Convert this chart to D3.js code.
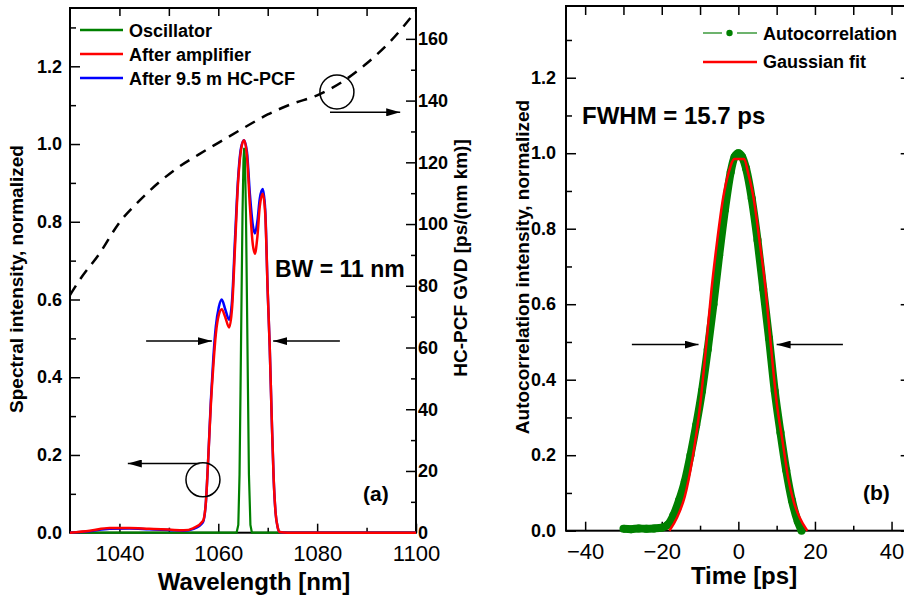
<!DOCTYPE html>
<html>
<head>
<meta charset="utf-8">
<script src="https://cdn.jsdelivr.net/npm/d3@7"></script>
<style>
body{margin:0;background:#fff}
svg text{font-family:"Liberation Sans",Arial,Helvetica,sans-serif;fill:#000}
</style>
</head>
<body>
<div id="chart"></div>
<script>
// ---- panel (a): spectra ----
var specWl  = [1030,1034,1038,1042,1046,1050,1053,1055,1056.9,1057.5,1058,1058.5,1059,1059.5,1060.1,1060.7,1061.4,1062.2,1062.8,1063.4,1064,1064.6,1065.2,1065.8,1066.4,1067,1067.4,1067.9,1068.4,1069,1069.5,1070,1070.4,1070.8,1071.2,1071.6,1072,1072.4,1074,1080,1090,1100]
var ampVals = [0,0.005,0.012,0.012,0.010,0.008,0.006,0.012,0.03,0.08,0.2,0.33,0.43,0.51,0.56,0.575,0.555,0.528,0.58,0.74,0.9,0.985,1.01,0.97,0.84,0.74,0.718,0.76,0.84,0.872,0.82,0.62,0.48,0.3,0.14,0.05,0.015,0.002,0,0,0,0]
var hcfVals = [0,0.004,0.010,0.011,0.009,0.007,0.005,0.01,0.027,0.08,0.2,0.34,0.45,0.53,0.58,0.6,0.575,0.548,0.6,0.76,0.91,0.99,1.01,0.98,0.87,0.79,0.77,0.8,0.86,0.884,0.83,0.62,0.48,0.3,0.14,0.05,0.015,0.002,0,0,0,0]
var oscWl   = [1030,1063.7,1064.05,1064.3,1064.5,1064.7,1064.9,1065.1,1065.25,1065.4,1065.6,1065.8,1066.0,1066.2,1066.5,1066.8,1100]
var oscVals = [0,0,0.02,0.15,0.37,0.6,0.82,0.96,0.99,0.96,0.82,0.6,0.37,0.15,0.02,0,0]
var gvdWl   = [1030,1032,1036,1040,1044,1048,1052,1056,1060,1065,1070,1075,1080,1085,1090,1095,1100]
var gvdVals = [77,82,90.5,100.5,107.5,113.5,118.5,122.5,126.3,131,135.5,139,141.7,146,152,159.5,169]

var waveTicks = [1040,1060,1080,1100], waveMinor = [1050,1070,1090]
var waveTop = [1040,1050,1060,1070,1080,1090]
var intTicks = [0,0.2,0.4,0.6,0.8,1.0,1.2], intMinor = [0.1,0.3,0.5,0.7,0.9,1.1,1.3]
var gvdTicks = [0,20,40,60,80,100,120,140,160], gvdMinor = [10,30,50,70,90,110,130,150]
var specNames = ["Oscillator","After amplifier","After 9.5 m HC-PCF"]
var specColors = ["#008000","#ff0000","#0000ff"]

// ---- panel (b): autocorrelation ----
var acTime = [-30,-28,-26,-24,-22,-20,-18.5,-17,-15.5,-14,-12.5,-11,-9.5,-8,-6.5,-5,-3.5,-2,-1,0,1,2,3.5,5,6.5,8,9.5,11,12.5,14,15.5,16.5]
var acVals = [0.005,0.004,0.006,0.005,0.006,0.008,0.015,0.04,0.08,0.13,0.2,0.28,0.37,0.48,0.6,0.73,0.85,0.95,0.99,1.0,0.99,0.96,0.88,0.77,0.64,0.51,0.37,0.26,0.16,0.08,0.025,0]
var fitTime = [-18,-16,-14,-12,-10,-8.5,-7,-5.5,-4,-2.5,-1,0,1.5,2.5,4,5.5,7,8.5,10,11.5,13,14.5,16,18]
var fitVals = [0,0.035,0.09,0.19,0.33,0.48,0.64,0.77,0.88,0.95,0.985,0.985,0.985,0.95,0.88,0.77,0.65,0.49,0.34,0.24,0.14,0.075,0.035,0]
var timeTicks = [-40,-20,0,20,40], timeMinor = [-30,-10,10,30]
var timeTop = [-40,-30,-20,-10,0,10,20,30,40]
var acNames = ["Autocorrelation","Gaussian fit"]

var svg = d3.select("#chart").append("svg")
  .attr("width",904).attr("height",601)
svg.append("rect").attr("width",904).attr("height",601).attr("fill","#fff")

svg.append("defs").append("marker").attr("id","head")
  .attr("viewBox","0 0 14 8").attr("refX",14).attr("refY",4)
  .attr("markerWidth",14).attr("markerHeight",8).attr("markerUnits","userSpaceOnUse")
  .attr("orient","auto")
  .append("path").attr("d","M0,0L14,4L0,8Z").attr("fill","#000")

function axis(gen, tx, ty){
  var a = svg.append("g").attr("transform","translate("+tx+","+ty+")").call(gen)
  a.attr("font-size",null).attr("font-family",null)
  a.select(".domain").remove()
  a.selectAll("line").attr("stroke","#000").attr("stroke-width",1.5)
  return a
}
function arrow(x1,y1,x2,y2){
  svg.append("line").attr("x1",x1).attr("y1",y1).attr("x2",x2).attr("y2",y2)
    .attr("stroke","#000").attr("stroke-width",1.5).attr("marker-end","url(#head)")
}

// ================= panel (a) =================
var xA = d3.scaleLinear().domain([1030,1100]).range([70,416])
var yA = d3.scaleLinear().domain([0,1.35]).range([532.7,8])
var yG = d3.scaleLinear().domain([0,170]).range([532.7,8])

axis(d3.axisBottom(xA).tickValues(waveTicks).tickSize(-9).tickPadding(13).tickFormat(d3.format("d")),0,532.7)
  .selectAll("text").attr("font-size",22)
axis(d3.axisBottom(xA).tickValues(waveMinor).tickSize(-5).tickFormat(""),0,532.7)
axis(d3.axisTop(xA).tickValues(waveTop).tickSize(-8).tickFormat(""),0,8)
axis(d3.axisLeft(yA).tickValues(intTicks).tickSize(-10).tickPadding(8).tickFormat(d3.format(".1f")),70,0)
  .selectAll("text").attr("font-size",18).attr("font-weight","bold")
axis(d3.axisLeft(yA).tickValues(intMinor).tickSize(-6).tickFormat(""),70,0)
axis(d3.axisRight(yG).tickValues(gvdTicks).tickSize(-10).tickPadding(2).tickFormat(d3.format("d")),416,0)
  .selectAll("text").attr("font-size",18).attr("font-weight","bold")
axis(d3.axisRight(yG).tickValues(gvdMinor).tickSize(-5).tickFormat(""),416,0)

svg.append("rect").attr("x",70).attr("y",8).attr("width",346).attr("height",524.7)
  .attr("fill","none").attr("stroke","#000").attr("stroke-width",2)

// GVD dashed curve
var gvdLine = d3.line().x(function(d,i){return xA(gvdWl[i])}).y(function(d){return yG(d)}).curve(d3.curveMonotoneX)
svg.append("path").attr("d",gvdLine(gvdVals)).attr("fill","none")
  .attr("stroke","#000").attr("stroke-width",2.5).attr("stroke-dasharray","11,8")

var oscLine = d3.line().x(function(d,i){return xA(oscWl[i])}).y(function(d){return yA(d)})
var specLine = d3.line().x(function(d,i){return xA(specWl[i])}).y(function(d){return yA(d)}).curve(d3.curveMonotoneX)
svg.append("path").attr("d",oscLine(oscVals)).attr("fill","none").attr("stroke",specColors[0]).attr("stroke-width",2.2)
svg.append("path").attr("d",specLine(hcfVals)).attr("fill","none").attr("stroke",specColors[2]).attr("stroke-width",2.5)
svg.append("path").attr("d",specLine(ampVals)).attr("fill","none").attr("stroke",specColors[1]).attr("stroke-width",2.5)

// legend (a)
specNames.forEach(function(n,i){
  svg.append("line").attr("x1",80).attr("x2",123).attr("y1",30+24*i).attr("y2",30+24*i)
    .attr("stroke",specColors[i]).attr("stroke-width",2.5)
  svg.append("text").attr("x",129).attr("y",37+24*i).attr("font-size",18).attr("font-weight","bold").text(n)
})

// annotations (a)
svg.append("circle").attr("cx",xA(1084)).attr("cy",yG(142.8)).attr("r",17)
  .attr("fill","none").attr("stroke","#000").attr("stroke-width",1.5)
arrow(xA(1082.6),yG(136.2),xA(1096.8),yG(136.2))
svg.append("circle").attr("cx",xA(1056.9)).attr("cy",yA(0.136)).attr("r",17)
  .attr("fill","none").attr("stroke","#000").attr("stroke-width",1.5)
arrow(xA(1056.2),yA(0.178),xA(1041.7),yA(0.178))
arrow(xA(1045.4),yA(0.493),xA(1058.7),yA(0.493))
arrow(xA(1084.6),yA(0.493),xA(1071.1),yA(0.493))

svg.append("text").attr("x",275).attr("y",277).attr("font-size",23).attr("font-weight","bold").text("BW = 11 nm")
svg.append("text").attr("x",363).attr("y",501).attr("font-size",21).attr("font-weight","bold").text("(a)")

svg.append("text").attr("x",254).attr("y",590).attr("text-anchor","middle")
  .attr("font-size",24).attr("font-weight","bold").text("Wavelength [nm]")
svg.append("text").attr("transform","translate(23,279) rotate(-90)").attr("text-anchor","middle")
  .attr("font-size",19).attr("font-weight","bold").text("Spectral intensity, normalized")
svg.append("text").attr("transform","translate(467,258) rotate(-90)").attr("text-anchor","middle")
  .attr("font-size",19).attr("font-weight","bold").text("HC-PCF GVD [ps/(nm km)]")

// ================= panel (b) =================
var xB = d3.scaleLinear().domain([-45,45]).range([566,910.7])
var yB = d3.scaleLinear().domain([0,1.39]).range([530.7,6])

axis(d3.axisBottom(xB).tickValues(timeTicks).tickSize(-9).tickPadding(13).tickFormat(d3.format("d")),0,530.7)
  .selectAll("text").attr("font-size",22)
axis(d3.axisBottom(xB).tickValues(timeMinor).tickSize(-5).tickFormat(""),0,530.7)
axis(d3.axisTop(xB).tickValues(timeTop).tickSize(-9).tickFormat(""),0,6)
axis(d3.axisLeft(yB).tickValues(intTicks).tickSize(-10).tickPadding(10).tickFormat(d3.format(".1f")),566,0)
  .selectAll("text").attr("font-size",18).attr("font-weight","bold")
axis(d3.axisLeft(yB).tickValues(intMinor).tickSize(-6).tickFormat(""),566,0)
axis(d3.axisRight(yB).tickValues(intTicks).tickSize(-10).tickFormat(""),910.7,0)
axis(d3.axisRight(yB).tickValues(intMinor).tickSize(-6).tickFormat(""),910.7,0)

svg.append("rect").attr("x",566).attr("y",6).attr("width",344.7).attr("height",524.7)
  .attr("fill","none").attr("stroke","#000").attr("stroke-width",2)

var acLine = d3.line().x(function(d,i){return xB(acTime[i])}).y(function(d){return yB(d)}).curve(d3.curveMonotoneX)
svg.append("path").attr("d",acLine(acVals)).attr("fill","none").attr("stroke","#008000").attr("stroke-width",8)
svg.selectAll(".ac").data(acVals).enter().append("circle").attr("class","ac")
  .attr("cx",function(d,i){return xB(acTime[i])}).attr("cy",function(d){return yB(d)})
  .attr("r",4).attr("fill","#008000")
var fitLine = d3.line().x(function(d,i){return xB(fitTime[i])}).y(function(d){return yB(d)}).curve(d3.curveMonotoneX)
svg.append("path").attr("d",fitLine(fitVals)).attr("fill","none").attr("stroke","#ff0000").attr("stroke-width",2.5)

// legend (b)
svg.append("line").attr("x1",703).attr("x2",722).attr("y1",33).attr("y2",33).attr("stroke","#3c9a3c").attr("stroke-width",1.5)
svg.append("line").attr("x1",737).attr("x2",757).attr("y1",33).attr("y2",33).attr("stroke","#3c9a3c").attr("stroke-width",1.5)
svg.append("circle").attr("cx",729.5).attr("cy",33).attr("r",3.2).attr("fill","#008000")
svg.append("line").attr("x1",703).attr("x2",757).attr("y1",62).attr("y2",62).attr("stroke","#ff0000").attr("stroke-width",2.5)
acNames.forEach(function(n,i){
  svg.append("text").attr("x",763).attr("y",40+28*i).attr("font-size",18).attr("font-weight","bold").text(n)
})

arrow(xB(-27.8),yB(0.493),xB(-10.4),yB(0.493))
arrow(xB(27.3),yB(0.493),xB(10.0),yB(0.493))

svg.append("text").attr("x",582).attr("y",124).attr("font-size",24).attr("font-weight","bold").text("FWHM = 15.7 ps")
svg.append("text").attr("x",863).attr("y",500).attr("font-size",21).attr("font-weight","bold").text("(b)")

svg.append("text").attr("x",744).attr("y",584).attr("text-anchor","middle")
  .attr("font-size",24).attr("font-weight","bold").text("Time [ps]")
svg.append("text").attr("transform","translate(529,267) rotate(-90)").attr("text-anchor","middle")
  .attr("font-size",19).attr("font-weight","bold").text("Autocorrelation intensity, normalized")
</script>
</body>
</html>
